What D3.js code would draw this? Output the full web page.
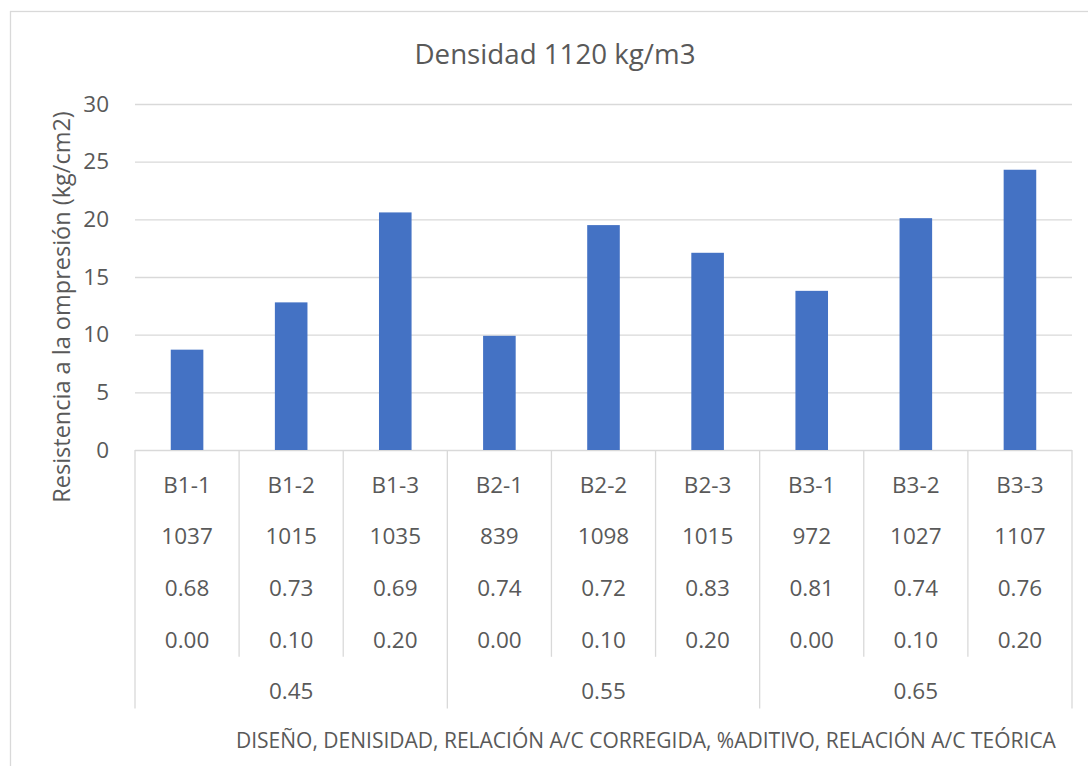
<!DOCTYPE html>
<html>
<head>
<meta charset="utf-8">
<script src="https://cdn.jsdelivr.net/npm/d3@7"></script>
<style>
  html, body { margin: 0; padding: 0; background: #ffffff; }
  svg text { font-family: "Open Sans", "Noto Sans", sans-serif; fill: #595959; }
</style>
</head>
<body>
<svg id="chart" width="1088" height="766"></svg>
<script>
// Compressive strength per mix design
const designs = ["B1-1", "B1-2", "B1-3", "B2-1", "B2-2", "B2-3", "B3-1", "B3-2", "B3-3"];
const densities = ["1037", "1015", "1035", "839", "1098", "1015", "972", "1027", "1107"];
const correctedRatio = ["0.68", "0.73", "0.69", "0.74", "0.72", "0.83", "0.81", "0.74", "0.76"];
const additivePct = ["0.00", "0.10", "0.20", "0.00", "0.10", "0.20", "0.00", "0.10", "0.20"];
const theoreticalRatio = ["0.45", "0.55", "0.65"];
const strength = [8.7, 12.8, 20.6, 9.9, 19.5, 17.1, 13.8, 20.1, 24.3];
const yTicks = [0, 5, 10, 15, 20, 25, 30];

const titleText = "Densidad 1120 kg/m3";
const yTitleText = "Resistencia a la ompresión (kg/cm2)";
const xTitleText = "DISEÑO, DENISIDAD, RELACIÓN A/C CORREGIDA, %ADITIVO, RELACIÓN A/C TEÓRICA";

const svg = d3.select("#chart");
const plot = { left: 135, right: 1072, top: 104, bottom: 450 };
const gridColor = "#d9d9d9";
const barColor = "#4472c4";
const rowH = 51.7;
const labelSize = 22.5;

// Chart frame
svg.append("rect")
  .attr("x", 10.5).attr("y", 11.5)
  .attr("width", 1100).attr("height", 800)
  .attr("fill", "none").attr("stroke", gridColor).attr("stroke-width", 1.3);

const x = d3.scaleBand().domain(designs).range([plot.left, plot.right]).padding(0);
const y = d3.scaleLinear().domain([0, 30]).range([plot.bottom, plot.top]);

// Horizontal gridlines
svg.append("g")
  .attr("transform", `translate(${plot.left},0)`)
  .call(d3.axisLeft(y).tickValues(yTicks).tickSize(-(plot.right - plot.left)).tickFormat(""))
  .call(g => g.select(".domain").remove())
  .call(g => g.selectAll("line").attr("stroke", gridColor).attr("stroke-width", 1.3));

// Y tick labels
svg.append("g")
  .attr("transform", `translate(${plot.left},0)`)
  .call(d3.axisLeft(y).tickValues(yTicks).tickSize(0).tickPadding(26))
  .call(g => g.select(".domain").remove())
  .call(g => g.selectAll("text")
    .attr("font-size", labelSize).attr("fill", "#595959")
    .style("font-family", "'Open Sans', sans-serif"));

// Bars
const barW = x.bandwidth() * 0.313;
svg.append("g").selectAll("rect")
  .data(strength)
  .join("rect")
  .attr("x", (d, i) => x(designs[i]) + (x.bandwidth() - barW) / 2)
  .attr("y", d => y(d))
  .attr("width", barW)
  .attr("height", d => y(0) - y(d))
  .attr("fill", barColor);

// Multi-level category table under the axis
const table = svg.append("g");
const rows = [designs, densities, correctedRatio, additivePct];
rows.forEach((row, r) => {
  table.selectAll(null)
    .data(row)
    .join("text")
    .attr("x", (d, i) => x(designs[i]) + x.bandwidth() / 2)
    .attr("y", plot.bottom + 42.5 + r * rowH)
    .attr("text-anchor", "middle")
    .attr("font-size", labelSize)
    .text(d => d);
});

// Group labels (theoretical w/c ratio), three designs each
const groupW = x.step() * 3;
table.selectAll(null)
  .data(theoreticalRatio)
  .join("text")
  .attr("x", (d, i) => plot.left + groupW * i + groupW / 2)
  .attr("y", plot.bottom + 42.5 + 4 * rowH)
  .attr("text-anchor", "middle")
  .attr("font-size", labelSize)
  .text(d => d);

// Divider lines between categories and groups
const bounds = d3.range(designs.length + 1);
table.selectAll("line")
  .data(bounds)
  .join("line")
  .attr("x1", i => plot.left + i * x.step())
  .attr("x2", i => plot.left + i * x.step())
  .attr("y1", plot.bottom)
  .attr("y2", i => (i % 3 === 0) ? plot.bottom + 5 * rowH : plot.bottom + 4 * rowH)
  .attr("stroke", gridColor)
  .attr("stroke-width", 1.3);

// Titles
svg.append("text")
  .attr("x", 555).attr("y", 64)
  .attr("text-anchor", "middle")
  .attr("font-size", 27.7)
  .text(titleText);

svg.append("text")
  .attr("transform", "translate(70,307) rotate(-90)")
  .attr("text-anchor", "middle")
  .attr("font-size", 23.5)
  .text(yTitleText);

svg.append("text")
  .attr("x", 236).attr("y", 748)
  .attr("font-size", 21)
  .text(xTitleText);
</script>
</body>
</html>
